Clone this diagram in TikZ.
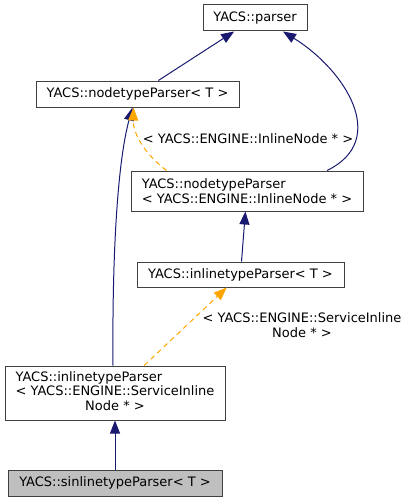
\documentclass[tikz,border=0pt]{standalone}
\usepackage{fontspec}
\setmainfont{DejaVu Sans}
\usepackage{xcolor}
\usepackage{tikz}
\usetikzlibrary{arrows.meta,positioning,calc}
\definecolor{edgenavy}{HTML}{191970}
\definecolor{edgeorange}{HTML}{FFA500}
\definecolor{boxgray}{HTML}{BFBFBF}

\begin{document}
\begin{tikzpicture}[x=1pt,y=-1pt,
	classbox/.style={draw=black!75,line width=1pt,fill=white,inner sep=0pt,font=\fontsize{13}{14.5}\selectfont},
	navyedge/.style={draw=edgenavy,line width=1pt,-{Triangle[length=13pt,width=10pt,fill=edgenavy]}},
	orangeedge/.style={draw=edgeorange,line width=1pt,dash pattern=on 5pt off 4pt,-{Triangle[length=13pt,width=10pt,fill=edgeorange]}},
	edgelabel/.style={font=\fontsize{13}{14.5}\selectfont,inner sep=0pt}]
	\useasboundingbox (0,0) rectangle (407,503);
	\node[classbox,minimum width=104pt,minimum height=26pt] (parser) at (255,18) {YACS::parser};
	\node[classbox,minimum width=203pt,minimum height=26pt] (ntT) at (137.5,94) {YACS::nodetypeParser< T >};
	\node[classbox,minimum width=232pt,minimum height=40pt,align=left] (ntI) at (247,191) {YACS::nodetypeParser\\< YACS::ENGINE::InlineNode * >};
	\node[classbox,minimum width=207pt,minimum height=25pt] (itT) at (240.5,274.5) {YACS::inlinetypeParser< T >};
	\node[classbox,minimum width=220pt,minimum height=54pt] (itS) at (115,393) {\begin{tabular}{@{}l@{}}YACS::inlinetypeParser\\< YACS::ENGINE::ServiceInline\\\multicolumn{1}{@{}c@{}}{Node * >}\end{tabular}};
	\node[classbox,fill=boxgray,minimum width=214pt,minimum height=26pt] (sit) at (115,483) {YACS::sinlinetypeParser< T >};
	\node[edgelabel] (lblI) at (248,139) {< YACS::ENGINE::InlineNode * >};
	\node[edgelabel,align=center] (lblS) at (302,325) {< YACS::ENGINE::ServiceInline\\Node * >};
	\draw[navyedge] (ntT) -- (parser);
	\draw[navyedge] ([xshift=80pt]ntI.north) .. controls (390,140) and (345,70) .. ([xshift=28pt]parser.south);
	\draw[navyedge] ([xshift=-2pt]itS.north) .. controls (112,250) and (118,160) .. ([xshift=-5pt]ntT.south);
	\draw[orangeedge] ([xshift=36pt]ntI.north west) .. controls (140,150) and (133,130) .. ([xshift=-4pt]ntT.south);
	\draw[navyedge] (itT) -- (ntI);
	\draw[orangeedge] (itS) -- (itT);
	\draw[navyedge] (sit) -- (itS);
\end{tikzpicture}
\end{document}
